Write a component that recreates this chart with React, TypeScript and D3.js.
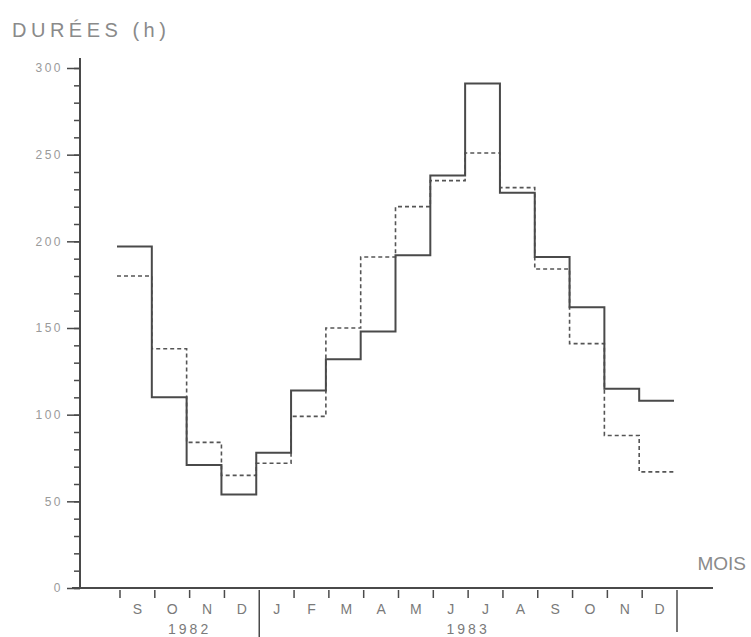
import * as d3 from 'd3';
import React, { useEffect, useRef } from 'react';

// month columns, Sept 1982 -> Dec 1983
const months = ['S', 'O', 'N', 'D', 'J', 'F', 'M', 'A', 'M', 'J', 'J', 'A', 'S', 'O', 'N', 'D'];
// solid step line (hours)
const solidValues = [197, 110, 71, 54, 78, 114, 132, 148, 192, 238, 291, 228, 191, 162, 115, 108];
// dashed step line (hours)
const dashedValues = [180, 138, 84, 65, 72, 99, 150, 191, 220, 235, 251, 231, 184, 141, 88, 67];
const yTicks = [0, 50, 100, 150, 200, 250, 300];
const years = [
  { label: '1982', from: 0, to: 4 },
  { label: '1983', from: 4, to: 16 },
];

const App = () => {
  const svgRef = useRef<SVGSVGElement>(null);

  useEffect(() => {
    const width = 751;
    const height = 637;
    const svg = d3.select(svgRef.current);
    svg.selectAll('*').remove();
    svg.attr('width', width).attr('height', height);

    const font = '"Liberation Sans", Arial, sans-serif';
    const axisColor = '#4a4a4a';
    const textColor = '#8a8a8a';

    const xScale = d3
      .scaleBand<number>()
      .domain(d3.range(months.length))
      .range([120, 677])
      .padding(0);
    const yScale = d3.scaleLinear().domain([0, 300]).range([588, 68]);
    const axisX = 80;
    const bw = xScale.bandwidth();

    // Title
    svg.append('text')
      .attr('x', 12)
      .attr('y', 37)
      .attr('font-family', font)
      .attr('font-size', 20)
      .attr('letter-spacing', 4.5)
      .attr('fill', textColor)
      .text('DURÉES (h)');

    // Y axis: minor ticks every 10
    const yMinor = svg.append('g').attr('transform', `translate(${axisX},0)`)
      .call(d3.axisLeft(yScale).tickValues(d3.range(0, 301, 10)).tickSize(6).tickFormat(() => ''));
    yMinor.select('.domain').remove();
    yMinor.selectAll('line').attr('stroke', axisColor).attr('stroke-width', 1.5);

    // Y axis: major ticks with labels
    const yMajor = svg.append('g').attr('transform', `translate(${axisX},0)`)
      .call(d3.axisLeft(yScale).tickValues(yTicks).tickSize(13).tickPadding(4));
    yMajor.select('.domain').remove();
    yMajor.selectAll('line').attr('stroke', axisColor).attr('stroke-width', 1.5);
    yMajor.selectAll('text')
      .attr('font-family', font)
      .attr('font-size', 12)
      .attr('letter-spacing', 2.5)
      .attr('fill', '#9a9a9a');

    // axis lines
    svg.append('line')
      .attr('x1', axisX).attr('x2', axisX)
      .attr('y1', yScale(0)).attr('y2', 58)
      .attr('stroke', axisColor).attr('stroke-width', 2);
    svg.append('line')
      .attr('x1', 72).attr('x2', 713)
      .attr('y1', yScale(0)).attr('y2', yScale(0))
      .attr('stroke', axisColor).attr('stroke-width', 2);

    // X axis ticks at month boundaries
    const bounds = d3.range(months.length + 1);
    const boundX = (d: number) => (d < months.length ? xScale(d)! : xScale(months.length - 1)! + bw);
    svg.append('g')
      .selectAll('line')
      .data(bounds)
      .enter()
      .append('line')
      .attr('x1', boundX)
      .attr('x2', boundX)
      .attr('y1', yScale(0) + 2)
      .attr('y2', d => (d === 4 ? 637 : d === months.length ? 632 : 598))
      .attr('stroke', axisColor)
      .attr('stroke-width', 1.5);

    // month labels
    svg.append('g')
      .selectAll('text')
      .data(months)
      .enter()
      .append('text')
      .attr('x', (d, i) => xScale(i)! + bw / 2)
      .attr('y', 614)
      .attr('text-anchor', 'middle')
      .attr('font-family', font)
      .attr('font-size', 14)
      .attr('fill', '#7a7a7a')
      .text(d => d);

    // year labels
    svg.append('g')
      .selectAll('text')
      .data(years)
      .enter()
      .append('text')
      .attr('x', d => (xScale(d.from)! + xScale(d.to - 1)! + bw) / 2)
      .attr('y', 634)
      .attr('text-anchor', 'middle')
      .attr('font-family', font)
      .attr('font-size', 14)
      .attr('letter-spacing', 3)
      .attr('fill', '#7a7a7a')
      .text(d => d.label);

    // MOIS
    svg.append('text')
      .attr('x', 746)
      .attr('y', 570)
      .attr('text-anchor', 'end')
      .attr('font-family', font)
      .attr('font-size', 19)
      .attr('fill', textColor)
      .text('MOIS');

    // step lines
    const toPoints = (values: number[]): [number, number][] => {
      const pts: [number, number][] = values.map((v, i) => [xScale(i)!, yScale(v)]);
      pts.push([xScale(values.length - 1)! + bw, yScale(values[values.length - 1])]);
      return pts;
    };
    const step = d3.line().curve(d3.curveStepAfter);
    const plot = svg.append('g').attr('transform', 'translate(-3,0)');

    plot.append('path')
      .attr('d', step(toPoints(dashedValues)))
      .attr('fill', 'none')
      .attr('stroke', '#555')
      .attr('stroke-width', 1.6)
      .attr('stroke-dasharray', '4,3');

    plot.append('path')
      .attr('d', step(toPoints(solidValues)))
      .attr('fill', 'none')
      .attr('stroke', '#4a4a4a')
      .attr('stroke-width', 2);
  }, []);

  return <svg ref={svgRef} style={{ position: 'absolute', left: 0, top: 0 }}></svg>;
};

export default App;
